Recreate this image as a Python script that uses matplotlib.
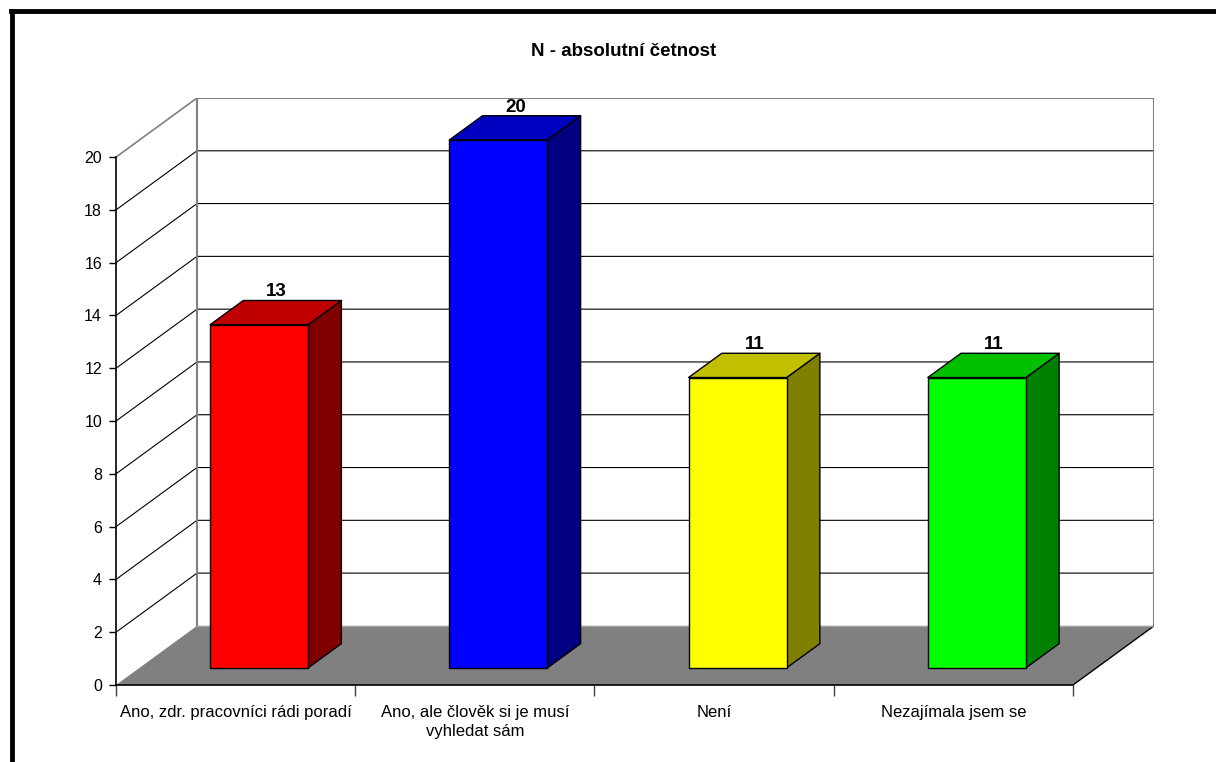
import numpy as np
import matplotlib.pyplot as plt
from matplotlib.patches import Polygon
from matplotlib.lines import Line2D

plt.rcParams['font.family'] = ['Liberation Sans', 'DejaVu Sans']

# data
kategorie = ['Ano, zdr. pracovníci rádi poradí',
             'Ano, ale člověk si je musí\nvyhledat sám',
             'Není',
             'Nezajímala jsem se']
hodnoty = [13, 20, 11, 11]
barvy_predni = ['#ff0000', '#0000ff', '#ffff00', '#00ff00']
barvy_bok = ['#800000', '#000080', '#808000', '#008000']
barvy_vrch = ['#c00000', '#0000c0', '#c0c000', '#00c000']
y_ticks = np.arange(0, 21, 2)

# posun do hloubky (v jednotkach os) a umisteni sloupcu v hloubce
DX, DY = 0.3386, 2.239
f0, f1 = 0.29, 0.70
w = 0.41
n = len(kategorie)
ymax = 20

okno = plt.figure(figsize=(12.16, 7.62), dpi=100)
ax = okno.add_axes([116 / 1216, 77 / 762, 1038 / 1216, 587 / 762])
ax.set_xlim(0, n + DX)
ax.set_ylim(0, ymax + DY)
ax.patch.set_visible(False)

# podlaha
ax.add_patch(Polygon([(0, 0), (n, 0), (n + DX, DY), (DX, DY)],
                     closed=True, facecolor='#808080', edgecolor='none', zorder=1))
ax.plot([n, n + DX], [0, DY], color='black', lw=1, zorder=1.5)
ax.plot([DX, n + DX], [DY, DY], color='#a0a0a0', lw=1, zorder=1.5)

# zadni stena a bocni stena
ax.plot([DX, DX, n + DX, n + DX], [DY, ymax + DY, ymax + DY, DY],
        color='#808080', lw=1.5, zorder=1.2)
ax.plot([0, DX], [ymax, ymax + DY], color='#808080', lw=1.2, zorder=1.2)
for v in y_ticks[1:-1]:
    ax.plot([0, DX, n + DX], [v, v + DY, v + DY], color='black', lw=0.8, zorder=1.1)

# sloupce
for i, v in enumerate(hodnoty):
    x0 = i + 0.5 - w / 2
    x1 = x0 + w
    predni = [(x0 + f0 * DX, f0 * DY), (x1 + f0 * DX, f0 * DY),
              (x1 + f0 * DX, v + f0 * DY), (x0 + f0 * DX, v + f0 * DY)]
    bok = [(x1 + f0 * DX, f0 * DY), (x1 + f1 * DX, f1 * DY),
           (x1 + f1 * DX, v + f1 * DY), (x1 + f0 * DX, v + f0 * DY)]
    vrch = [(x0 + f0 * DX, v + f0 * DY), (x1 + f0 * DX, v + f0 * DY),
            (x1 + f1 * DX, v + f1 * DY), (x0 + f1 * DX, v + f1 * DY)]
    for pts, c in [(bok, barvy_bok[i]), (vrch, barvy_vrch[i]), (predni, barvy_predni[i])]:
        ax.add_patch(Polygon(pts, closed=True, facecolor=c, edgecolor='black',
                             lw=1, joinstyle='round', zorder=3))
    ax.text(i + 0.5 + 0.5 * DX, v + f1 * DY, str(v), ha='center', va='bottom',
            fontsize=13.5, fontweight='bold', zorder=4)

# osy
for s in ['top', 'right']:
    ax.spines[s].set_visible(False)
ax.spines['left'].set_bounds(0, ymax)
ax.spines['bottom'].set_bounds(0, n)
ax.spines['left'].set_linewidth(1.2)
ax.spines['bottom'].set_linewidth(1.2)
ax.spines['left'].set_zorder(2.5)
ax.spines['bottom'].set_zorder(2.5)
ax.set_yticks(y_ticks)
ax.set_yticklabels([str(t) for t in y_ticks], fontsize=11.5)
ax.tick_params(axis='y', length=5, width=1, pad=5)
ax.set_xticks(np.arange(n + 1))
ax.set_xticklabels([])
ax.tick_params(axis='x', which='major', length=8, width=1, color='#404040')
ax.set_xticks(np.arange(n) + 0.5, minor=True)
ax.set_xticklabels(kategorie, minor=True, fontsize=12, linespacing=1.3)
ax.tick_params(axis='x', which='minor', length=0, pad=14.5)

okno.text(624 / 1216, 1 - 52 / 762, 'N - absolutní četnost', ha='center', va='center',
          fontsize=13.5, fontweight='bold')

# ramecek okna
okno.add_artist(Line2D([11 / 1216, 1], [1 - 11 / 762, 1 - 11 / 762], color='black', lw=3.5))
okno.add_artist(Line2D([12 / 1216, 12 / 1216], [0, 1 - 11 / 762], color='black', lw=3.5))

okno.savefig('out.png', dpi=100)
